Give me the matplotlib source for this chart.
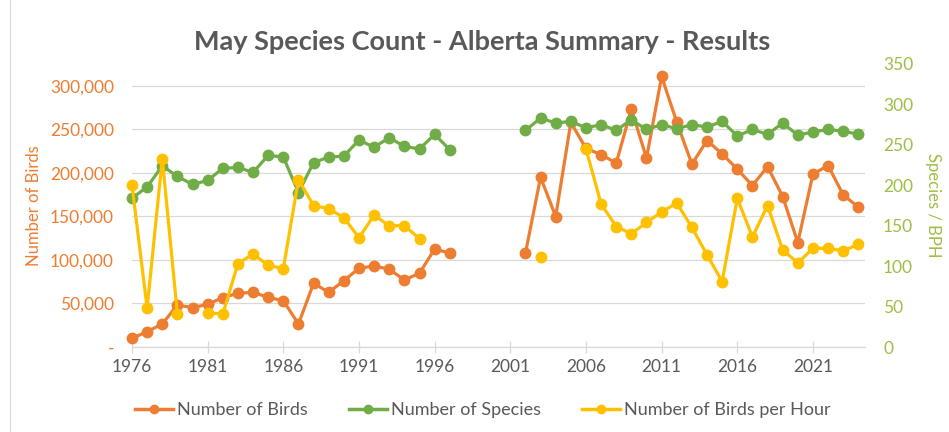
import numpy as np
import matplotlib.pyplot as plt
from matplotlib.ticker import FuncFormatter
from matplotlib.lines import Line2D

plt.rcParams['font.family'] = ['Lato', 'DejaVu Sans']

years = list(range(1976, 2025))
nan = np.nan

# Number of birds (left axis)
birds = [10000, 17600, 26400, 48300, 45200, 49000, 56700, 61700, 62800, 57000,
         53200, 26400, 73200, 62800, 76200, 90400, 93100, 89300, 77000, 84700,
         112600, 107700, nan, nan, nan, nan, 107700, 195000, 149800, 258000,
         228000, 221000, 211100, 273200, 216900, 310700, 258300, 210000, 237100, 221800,
         204200, 185400, 207200, 172800, 119900, 198500, 208400, 174700, 160600]

# Number of species (right axis)
species = [184, 198, 224, 211, 201, 206, 221, 222, 216, 237,
           235, 191, 228, 235, 236, 256, 247, 259, 248, 245,
           263, 244, nan, nan, nan, nan, 268, 283, 277, 279,
           271, 275, 268, 281, 269, 275, 270, 275, 272, 279,
           261, 269, 263, 277, 262, 266, 269, 267, 263]

# Number of birds per hour (right axis)
bph = [200, 48, 233, 41, nan, 42, 41, 103, 115, 101,
       97, 207, 175, 171, 160, 135, 163, 150, 150, 134,
       nan, nan, nan, nan, nan, nan, nan, 111, nan, nan,
       245, 177, 149, 140, 154, 167, 178, 148, 114, 81,
       184, 136, 175, 120, 104, 122, 122, 119, 127]

birds = np.array(birds, dtype=float)
species = np.array(species, dtype=float)
bph = np.array(bph, dtype=float)

ORANGE = '#ED7D31'
GREEN = '#70AD47'
YELLOW = '#FFC000'
OLIVE = '#9DBE45'
GRAY = '#595959'
GRID = '#D9D9D9'

fig = plt.figure(figsize=(9.49, 4.32), dpi=100)
ax = fig.add_axes([132 / 949, 85 / 432, 733 / 949, 283 / 432])
ax2 = ax.twinx()

style = dict(linewidth=2.3, marker='o', markersize=7.5, clip_on=False)
ax.plot(years, birds, color=ORANGE, **style)
ax2.plot(years, species, color=GREEN, **style)
ax2.plot(years, bph, color=YELLOW, **style)

ax.set_xlim(1976, 2024.44)
ax.set_ylim(0, 325000)
ax2.set_ylim(0, 350)

ax.set_yticks(np.arange(0, 300001, 50000))
ax.yaxis.set_major_formatter(FuncFormatter(lambda v, p: '-' if v == 0 else f'{int(v):,}'))
ax2.set_yticks(np.arange(0, 351, 50))

ax.set_xticks(np.arange(1976, 2025, 5))
ax.grid(axis='y', color=GRID, linewidth=0.9)
ax.set_axisbelow(True)

for a in (ax, ax2):
    for s in a.spines.values():
        s.set_visible(False)
ax.spines['bottom'].set_visible(True)
ax.spines['bottom'].set_color(GRID)
ax.spines['bottom'].set_linewidth(0.9)

ax.tick_params(axis='x', direction='inout', length=8, color=GRID, width=0.9,
               labelcolor=GRAY, labelsize=12.5, pad=5)
ax.tick_params(axis='y', length=0, labelcolor=ORANGE, labelsize=12.5, pad=13)
ax2.tick_params(axis='y', length=0, labelcolor=OLIVE, labelsize=12.5, pad=13)

ax.set_ylabel('Number of Birds', color=ORANGE, fontsize=12, labelpad=6)
ax2.set_ylabel('Species / BPH', color=OLIVE, fontsize=12, rotation=270, labelpad=20)

fig.text(482 / 949, 1 - 42 / 432, 'May Species Count - Alberta Summary - Results',
         ha='center', va='center', fontsize=19.5, fontweight='bold', color=GRAY)

handles = [Line2D([], [], color=c, linewidth=2.5, marker='o', markersize=6)
           for c in (ORANGE, GREEN, YELLOW)]
fig.legend(handles, ['Number of Birds', 'Number of Species', 'Number of Birds per Hour'],
           loc='center', bbox_to_anchor=(483 / 949, 1 - 410 / 432), ncol=3,
           frameon=False, fontsize=13, labelcolor=GRAY, handlelength=2.1,
           handletextpad=0.2, columnspacing=2.3)

fig.add_artist(Line2D([10 / 949, 10 / 949], [0, 1], color=GRID, linewidth=0.9))

fig.savefig('out.png', dpi=100)
